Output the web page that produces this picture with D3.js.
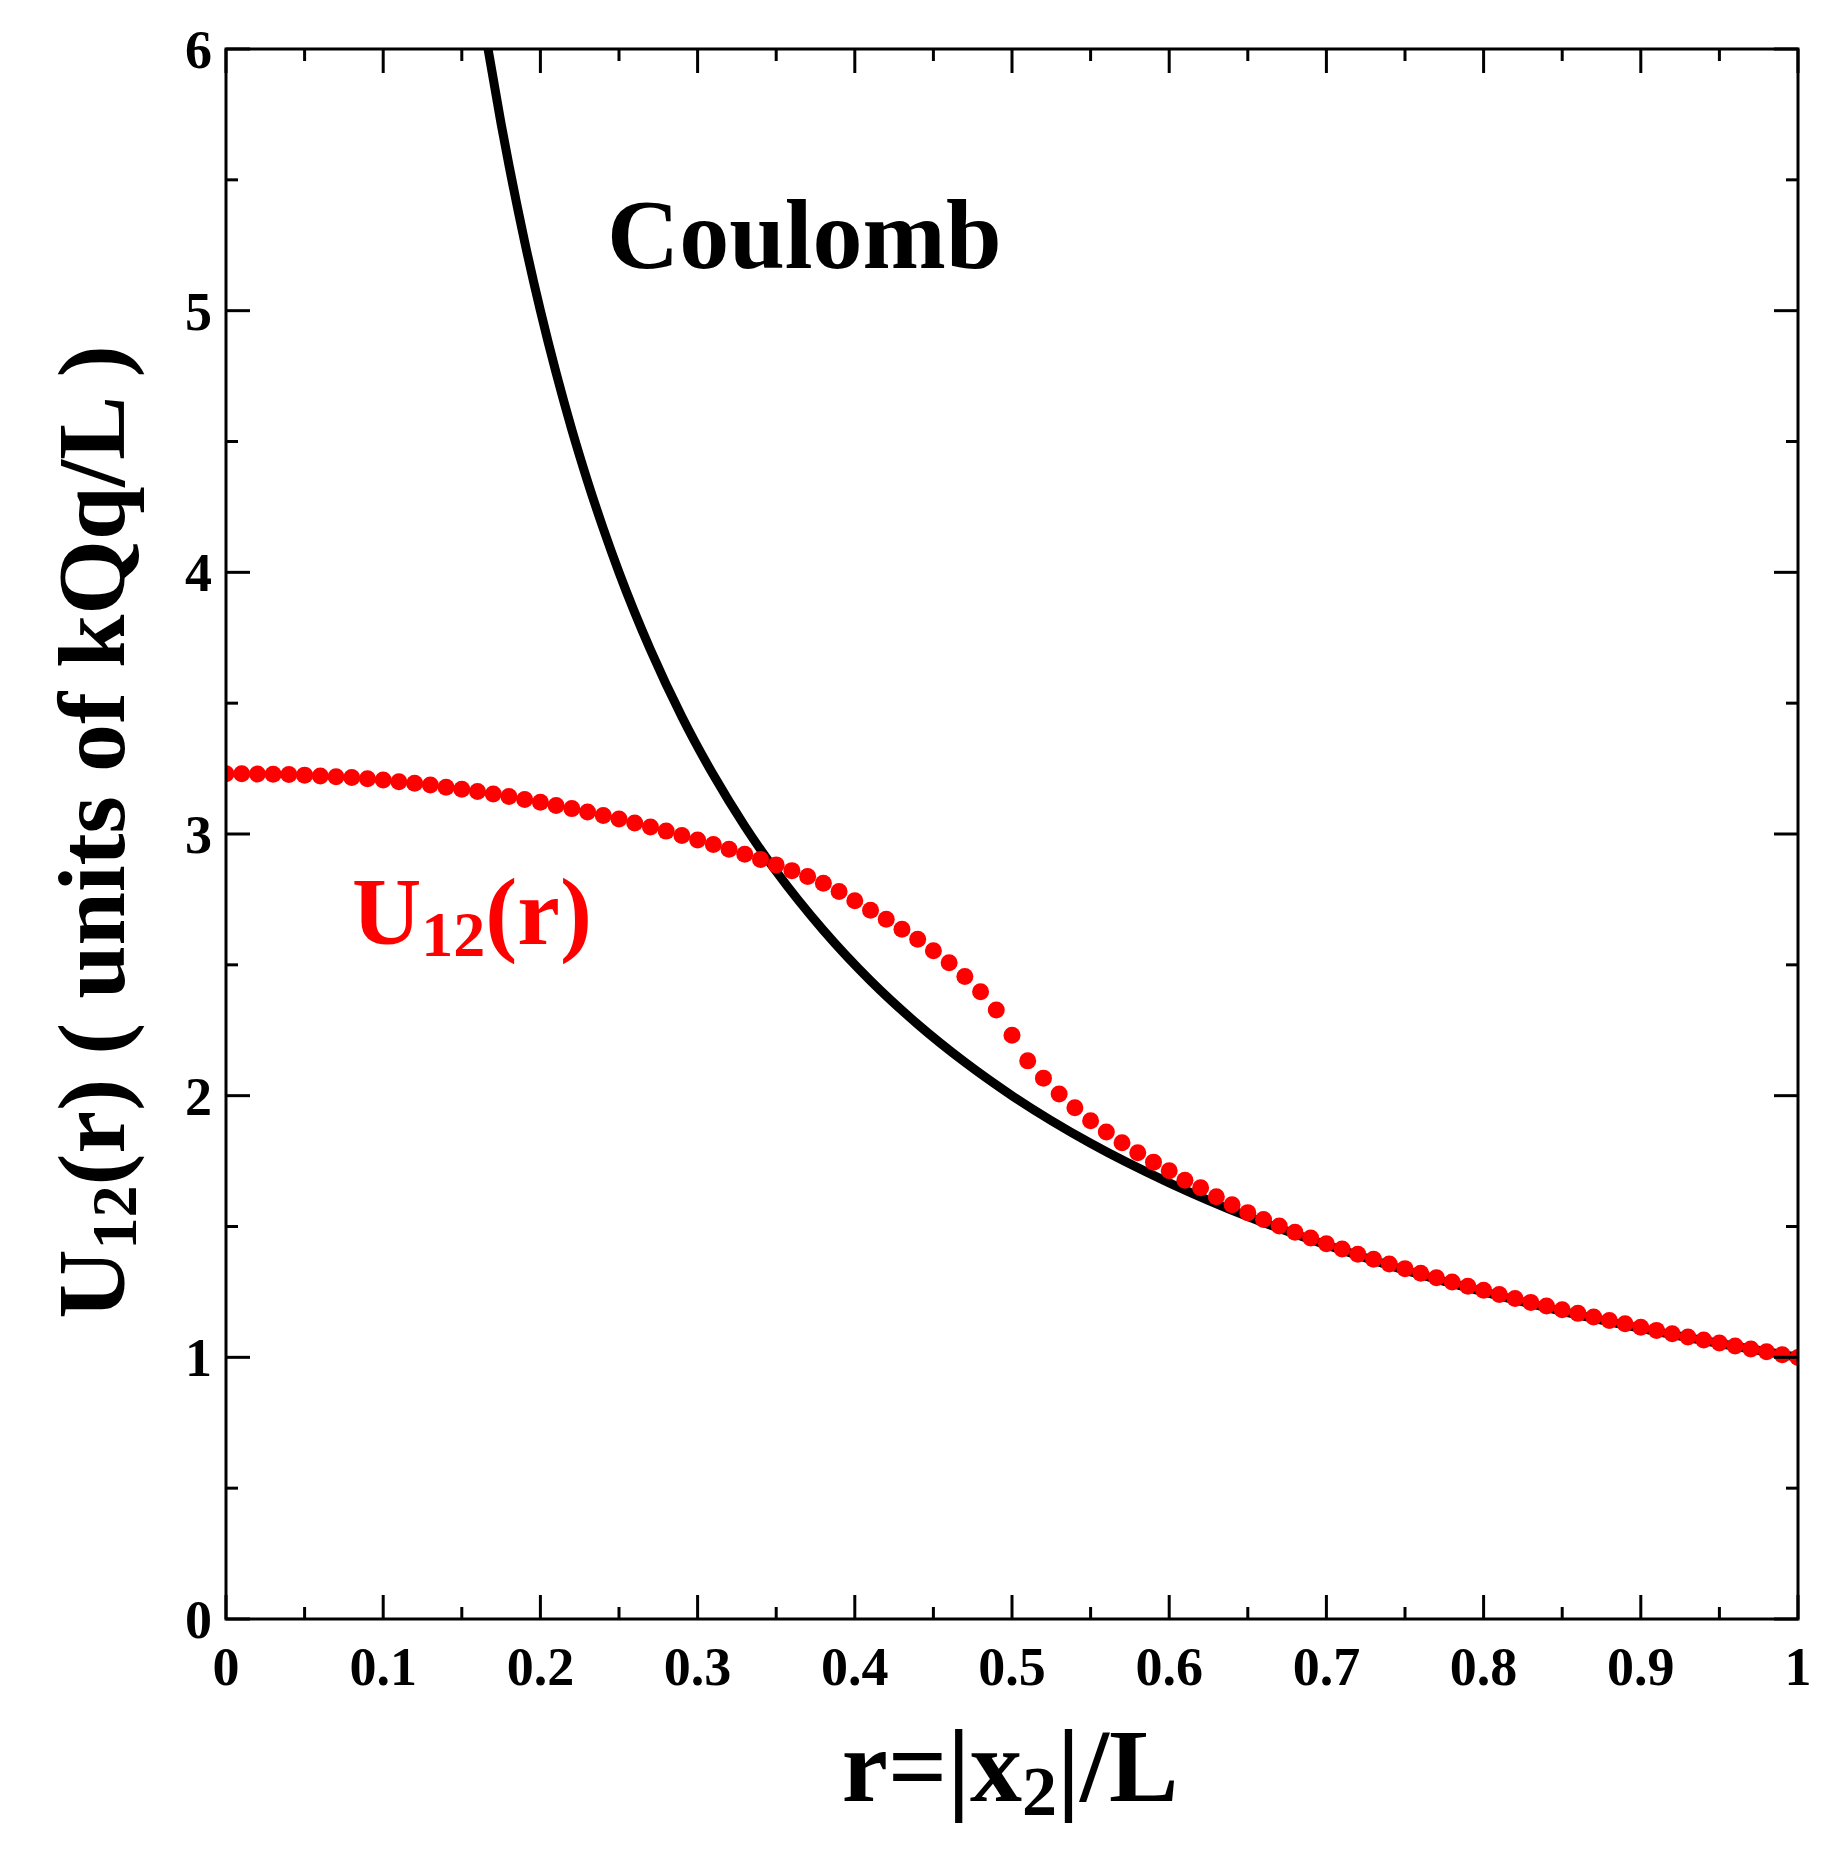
<!DOCTYPE html>
<html><head><meta charset="utf-8">
<script src="https://cdn.jsdelivr.net/npm/d3@7"></script>
<style>body{margin:0;background:#fff}svg{display:block}text{font-family:"Liberation Serif","Times New Roman",serif;font-weight:bold}</style>
</head><body><svg id="c" width="1841" height="1865"></svg>
<script>
const xTicks=[0,0.1,0.2,0.3,0.4,0.5,0.6,0.7,0.8,0.9,1];
const xTickLabels=["0","0.1","0.2","0.3","0.4","0.5","0.6","0.7","0.8","0.9","1"];
const yTicks=[0,1,2,3,4,5,6];
const coulombR=[0.1667,0.175,0.18,0.19,0.2,0.21,0.22,0.23,0.24,0.25,0.27,0.29,0.31,0.33,0.35,0.38,0.41,0.44,0.47,0.5,0.55,0.6,0.65,0.7,0.75,0.8,0.85,0.9,0.95,1];
const coulombU=[6,5.714,5.556,5.263,5,4.762,4.545,4.348,4.167,4,3.704,3.448,3.226,3.030,2.857,2.632,2.439,2.273,2.128,2,1.818,1.667,1.538,1.429,1.333,1.25,1.176,1.111,1.053,1];
const u12=[3.230,3.230,3.229,3.228,3.227,3.225,3.222,3.219,3.216,3.211,
3.206,3.200,3.194,3.187,3.179,3.171,3.162,3.153,3.143,3.132,
3.121,3.109,3.097,3.084,3.071,3.057,3.042,3.027,3.011,2.994,
2.977,2.960,2.942,2.923,2.903,2.882,2.860,2.838,2.812,2.780,
2.745,2.709,2.674,2.636,2.598,2.554,2.508,2.455,2.397,2.327,
2.231,2.133,2.067,2.006,1.954,1.904,1.861,1.820,1.782,1.746,
1.713,1.677,1.648,1.614,1.583,1.553,1.527,1.502,1.478,1.456,
1.434,1.414,1.394,1.375,1.357,1.339,1.321,1.304,1.288,1.272,
1.256,1.240,1.225,1.210,1.196,1.182,1.168,1.154,1.141,1.128,
1.115,1.103,1.090,1.078,1.066,1.055,1.043,1.032,1.021,1.010,0.999];
const u12R=u12.map((_,i)=>i/100);

const L=226,R=1798,T=49,B=1619;
const svg=d3.select("#c");
const x=d3.scaleLinear().domain([0,1]).range([L,R]);
const y=d3.scaleLinear().domain([0,6]).range([B,T]);
svg.append("clipPath").attr("id","cp").append("rect").attr("x",L).attr("y",T).attr("width",R-L).attr("height",B-T);

// Coulomb line
svg.append("path").datum(coulombR.map((r,i)=>[r,coulombU[i]]))
 .attr("clip-path","url(#cp)").attr("fill","none").attr("stroke","#000").attr("stroke-width",9)
 .attr("d",d3.line().x(d=>x(d[0])).y(d=>y(d[1])).curve(d3.curveMonotoneX));
// U12 dots
svg.append("g").selectAll("circle").data(u12R.map((r,i)=>[r,u12[i]])).join("circle")
 .attr("clip-path","url(#cp)").attr("cx",d=>x(d[0])).attr("cy",d=>y(d[1])).attr("r",8.5).attr("fill","#ff0000");

// axes with inward ticks
const ax=svg.append("g").attr("stroke","#000").attr("stroke-width",3);
ax.append("rect").attr("x",L).attr("y",T).attr("width",R-L).attr("height",B-T).attr("fill","none");
const xMinor=d3.range(0,1.0001,0.05), yMinor=d3.range(0,6.0001,0.5);
xMinor.forEach((v,i)=>{const len=i%2===0?24:12;
 ax.append("line").attr("x1",x(v)).attr("x2",x(v)).attr("y1",B).attr("y2",B-len);
 ax.append("line").attr("x1",x(v)).attr("x2",x(v)).attr("y1",T).attr("y2",T+len);});
yMinor.forEach((v,i)=>{const len=i%2===0?24:12;
 ax.append("line").attr("y1",y(v)).attr("y2",y(v)).attr("x1",L).attr("x2",L+len);
 ax.append("line").attr("y1",y(v)).attr("y2",y(v)).attr("x1",R).attr("x2",R-len);});

svg.append("g").selectAll("text").data(xTicks).join("text")
 .attr("x",d=>x(d)).attr("y",B+66).attr("text-anchor","middle").attr("font-size",54).text((d,i)=>xTickLabels[i]);
svg.append("g").selectAll("text").data(yTicks).join("text")
 .attr("x",L-14).attr("y",d=>y(d)+19).attr("text-anchor","end").attr("font-size",54).text(d=>d);

// axis titles
const xt=svg.append("text").attr("x",1010).attr("y",1801).attr("text-anchor","middle").attr("font-size",104);
xt.append("tspan").text("r=|x");
xt.append("tspan").attr("font-size",70).attr("dy",14).text("2");
xt.append("tspan").attr("dy",-14).text("|/L");
const yt=svg.append("text").attr("transform","translate(124,832) rotate(-90)").attr("text-anchor","middle").attr("font-size",96);
yt.append("tspan").text("U");
yt.append("tspan").attr("font-size",64).attr("dy",12).text("12");
yt.append("tspan").attr("dy",-12).text("(r) ( units of kQq/L )");

svg.append("text").attr("x",607).attr("y",268).attr("font-size",100).text("Coulomb");
const ut=svg.append("text").attr("x",352).attr("y",944).attr("font-size",96).attr("fill","#ff0000");
ut.append("tspan").text("U");
ut.append("tspan").attr("font-size",64).attr("dy",12).text("12");
ut.append("tspan").attr("dy",-12).text("(r)");
</script></body></html>
